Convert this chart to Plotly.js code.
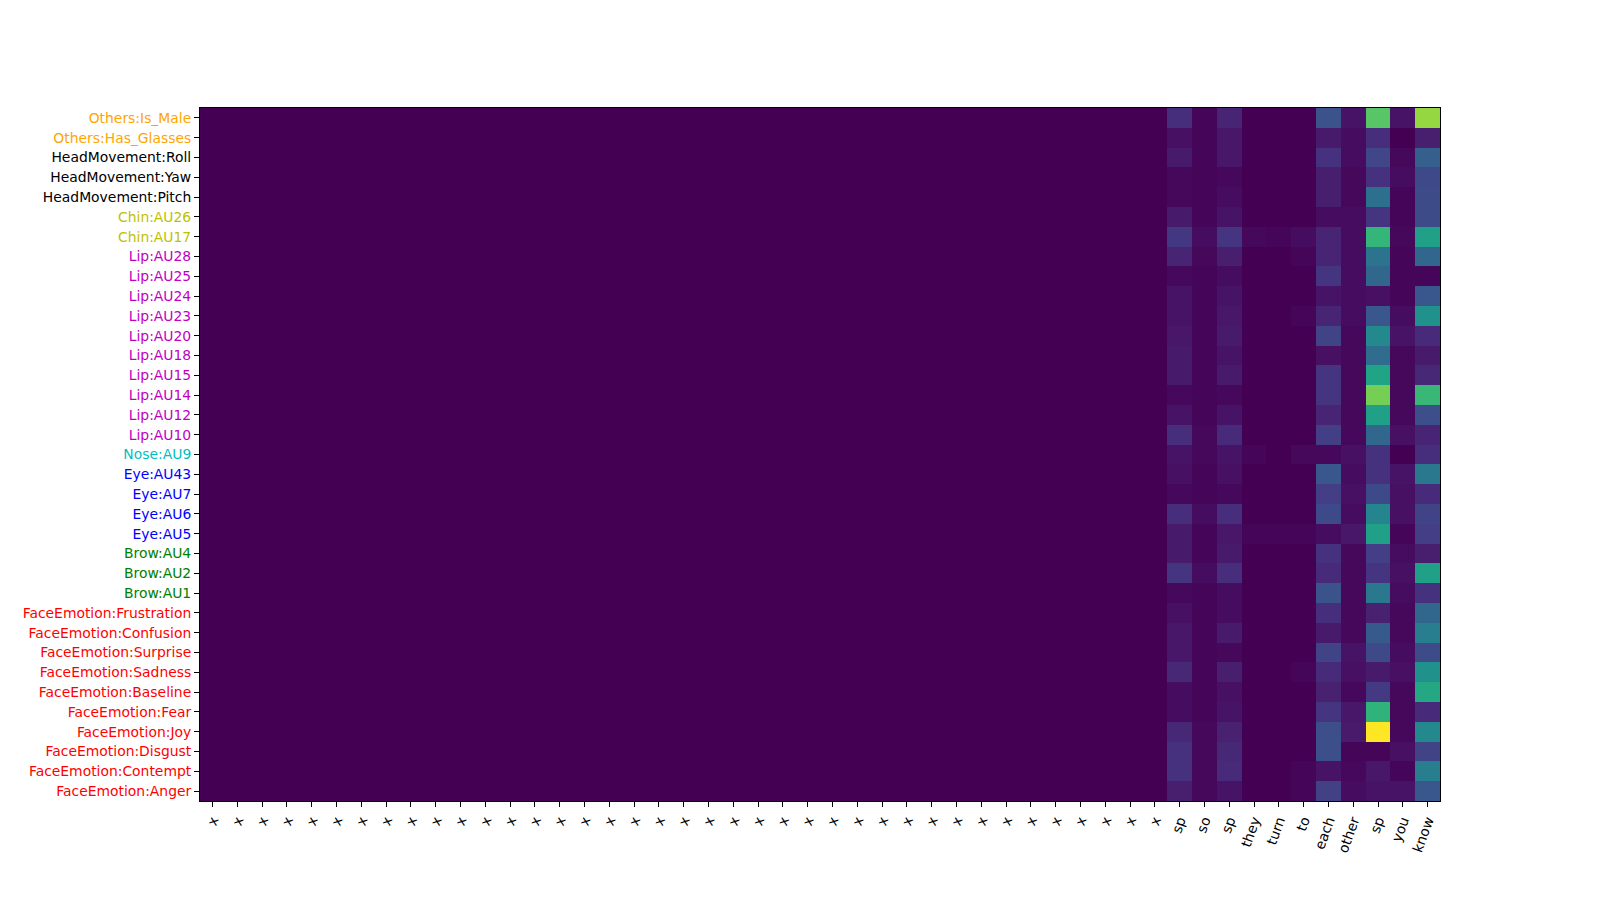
<!DOCTYPE html>
<html>
<head>
<meta charset="utf-8">
<script src="https://cdn.plot.ly/plotly-3.0.1.min.js"></script>
<style>html,body{margin:0;padding:0;background:#fff;}#chart{width:1600px;height:900px;}</style>
</head>
<body>
<div id="chart"></div>
<script>
// Row labels (top to bottom) and their label colours
const rowLabels = [
  "Others:Is_Male","Others:Has_Glasses","HeadMovement:Roll","HeadMovement:Yaw","HeadMovement:Pitch",
  "Chin:AU26","Chin:AU17","Lip:AU28","Lip:AU25","Lip:AU24","Lip:AU23","Lip:AU20","Lip:AU18",
  "Lip:AU15","Lip:AU14","Lip:AU12","Lip:AU10","Nose:AU9","Eye:AU43","Eye:AU7","Eye:AU6","Eye:AU5",
  "Brow:AU4","Brow:AU2","Brow:AU1","FaceEmotion:Frustration","FaceEmotion:Confusion",
  "FaceEmotion:Surprise","FaceEmotion:Sadness","FaceEmotion:Baseline","FaceEmotion:Fear",
  "FaceEmotion:Joy","FaceEmotion:Disgust","FaceEmotion:Contempt","FaceEmotion:Anger"
];
const groupColors = {
  "Others":"#ffa500","HeadMovement":"#000000","Chin":"#bfbf00","Lip":"#bf00bf",
  "Nose":"#00bfbf","Eye":"#0000ff","Brow":"#008000","FaceEmotion":"#ff0000"
};

// Column tokens (left to right)
const xPadTokens = ["x","x","x","x","x","x","x","x","x","x","x","x","x","x","x","x","x","x","x","x",
                    "x","x","x","x","x","x","x","x","x","x","x","x","x","x","x","x","x","x","x"];
const wordTokens = ["sp","so","sp","they","turn","to","each","other","sp","you","know"];

// Values of the padded "x" columns (all at the minimum)
const xPadValues = [0,0,0,0,0,0,0,0,0,0,0,0,0,0,0,0,0,0,0,0,0,0,0,0,0,0,0,0,0,0,0,0,0,0,0,0,0,0,0];

// Values for the word columns: sp, so, sp, they, turn, to, each, other, sp, you, know
const wordValues = [
  [0.13,0.01,0.10,0,0,0,0.25,0.05,0.74,0.05,0.84], // Is_Male
  [0.04,0.01,0.06,0,0,0,0.07,0.03,0.13,0.00,0.08], // Has_Glasses
  [0.07,0.01,0.06,0,0,0,0.14,0.03,0.21,0.02,0.30], // Roll
  [0.02,0.01,0.02,0,0,0,0.08,0.02,0.14,0.03,0.22], // Yaw
  [0.02,0.01,0.03,0,0,0,0.08,0.02,0.37,0.01,0.23], // Pitch
  [0.07,0.01,0.05,0,0,0,0.03,0.03,0.15,0.01,0.23], // AU26
  [0.16,0.03,0.15,0.02,0.01,0.03,0.10,0.03,0.66,0.02,0.57], // AU17
  [0.10,0.02,0.08,0,0,0.01,0.10,0.03,0.38,0.01,0.33], // AU28
  [0.02,0.01,0.03,0,0,0,0.15,0.03,0.33,0.01,0.01], // AU25
  [0.05,0.01,0.05,0,0,0,0.05,0.03,0.04,0.01,0.27], // AU24
  [0.05,0.01,0.06,0,0,0.01,0.10,0.03,0.27,0.03,0.50], // AU23
  [0.06,0.01,0.07,0,0,0,0.20,0.02,0.47,0.05,0.12], // AU20
  [0.07,0.01,0.05,0,0,0,0.04,0.02,0.35,0.02,0.07], // AU18
  [0.07,0.01,0.07,0,0,0,0.15,0.02,0.58,0.02,0.11], // AU15
  [0.02,0.01,0.02,0,0,0,0.15,0.02,0.79,0.02,0.67], // AU14
  [0.05,0.01,0.05,0,0,0,0.10,0.02,0.57,0.02,0.24], // AU12
  [0.13,0.02,0.12,0,0,0,0.18,0.02,0.33,0.04,0.10], // AU10
  [0.05,0.02,0.05,0.01,0,0.02,0.02,0.04,0.14,0.00,0.13], // AU9
  [0.04,0.01,0.04,0,0,0,0.27,0.03,0.14,0.05,0.40], // AU43
  [0.02,0.01,0.02,0,0,0,0.18,0.04,0.22,0.04,0.12], // AU7
  [0.13,0.03,0.13,0,0,0,0.22,0.03,0.45,0.04,0.20], // AU6
  [0.07,0.01,0.06,0.01,0.01,0.01,0.03,0.06,0.57,0.01,0.18], // AU5
  [0.07,0.01,0.07,0,0,0,0.14,0.02,0.18,0.03,0.08], // AU4
  [0.15,0.03,0.13,0,0,0,0.12,0.02,0.15,0.04,0.57], // AU2
  [0.02,0.01,0.03,0,0,0,0.26,0.02,0.40,0.03,0.14], // AU1
  [0.04,0.01,0.03,0,0,0,0.13,0.02,0.09,0.02,0.33], // Frustration
  [0.06,0.01,0.07,0,0,0,0.07,0.02,0.28,0.02,0.42], // Confusion
  [0.06,0.01,0.02,0,0,0,0.20,0.05,0.22,0.03,0.23], // Surprise
  [0.11,0.01,0.08,0,0,0.01,0.12,0.04,0.07,0.04,0.50], // Sadness
  [0.03,0.01,0.04,0,0,0,0.09,0.02,0.17,0.02,0.60], // Baseline
  [0.03,0.01,0.05,0,0,0,0.15,0.06,0.65,0.02,0.12], // Fear
  [0.11,0.02,0.09,0,0,0,0.24,0.07,1.00,0.02,0.47], // Joy
  [0.14,0.02,0.11,0,0,0,0.24,0.01,0.01,0.04,0.20], // Disgust
  [0.14,0.02,0.12,0,0,0.01,0.05,0.02,0.06,0.01,0.42], // Contempt
  [0.08,0.02,0.05,0,0,0.01,0.19,0.03,0.05,0.05,0.27]  // Anger
];

const xTokens = xPadTokens.concat(wordTokens);
const z = wordValues.map(r => xPadValues.concat(r));
const xIdx = xTokens.map((_, i) => i);
const yIdx = rowLabels.map((_, i) => i);
const yTickText = rowLabels.map(l => {
  const c = groupColors[l.split(":")[0]];
  return '<span style="color:' + c + '">' + l + '</span>';
});

const trace = {
  type: 'heatmap',
  z: z, x: xIdx, y: yIdx,
  colorscale: 'Viridis', zmin: 0, zmax: 1,
  showscale: false, xgap: 0, ygap: 0
};

const fontFam = 'DejaVu Sans, sans-serif';
const layout = {
  width: 1600, height: 900,
  margin: {l: 200, r: 160, t: 108, b: 99},
  paper_bgcolor: '#ffffff', plot_bgcolor: '#ffffff',
  font: {family: fontFam, size: 13.9, color: '#000'},
  xaxis: {
    tickmode: 'array', tickvals: xIdx, ticktext: xTokens,
    tickangle: -70, ticks: 'outside', ticklen: 5, tickwidth: 1, tickcolor: '#000',
    range: [-0.5, xTokens.length - 0.5], showgrid: false, zeroline: false,
    showline: true, linecolor: '#000', linewidth: 1, mirror: true,
    tickfont: {family: fontFam, size: 13.9, color: '#000'}
  },
  yaxis: {
    tickmode: 'array', tickvals: yIdx, ticktext: yTickText,
    ticks: 'outside', ticklen: 5, tickwidth: 1, tickcolor: '#000',
    range: [rowLabels.length - 0.5, -0.5], showgrid: false, zeroline: false,
    showline: true, linecolor: '#000', linewidth: 1, mirror: true,
    tickfont: {family: fontFam, size: 13.9, color: '#000'}
  }
};

Plotly.newPlot('chart', [trace], layout, {displayModeBar: false, staticPlot: true});
</script>
</body>
</html>
